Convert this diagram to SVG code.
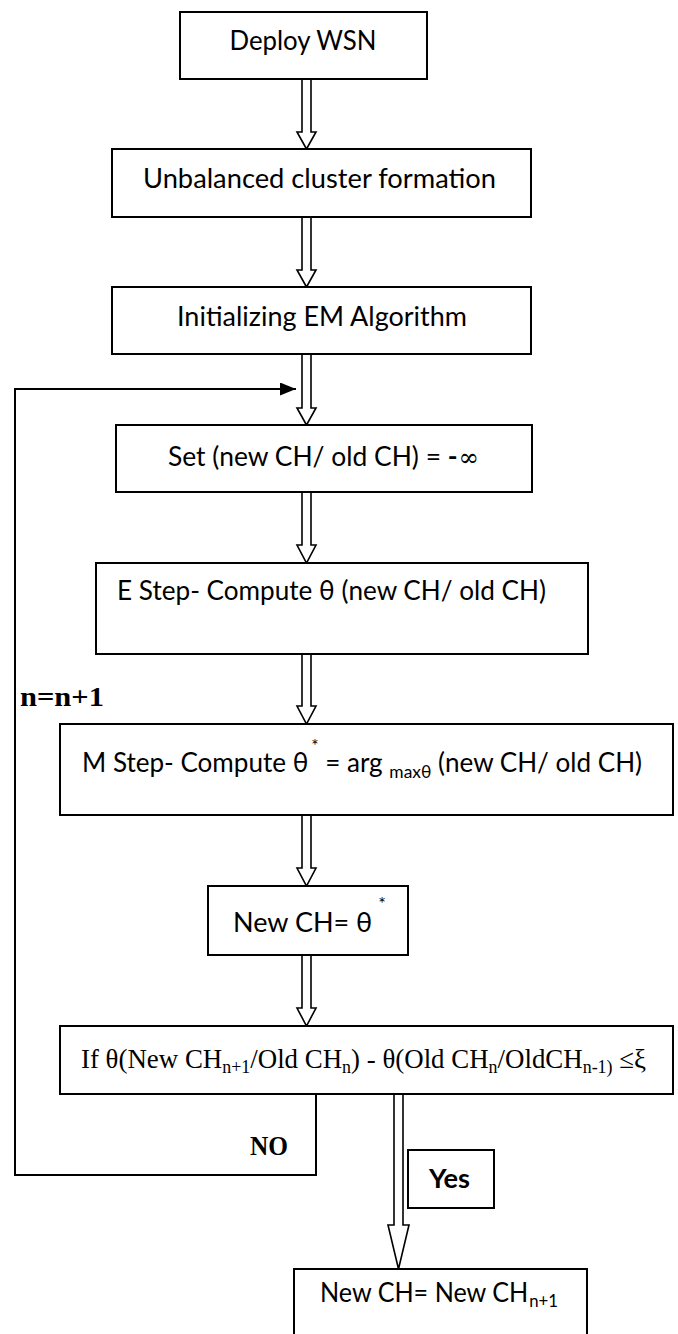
<svg xmlns="http://www.w3.org/2000/svg" width="678" height="1334" viewBox="0 0 678 1334">
<style>
.box{fill:#fff;stroke:#000;stroke-width:2}
.t{font-family:Lato,"Liberation Sans",sans-serif;font-size:27px;fill:#000}
.s{font-family:"Liberation Serif","Times New Roman",serif;font-size:27px;fill:#000}
.bs{font-family:"Liberation Serif","Times New Roman",serif;font-size:27px;font-weight:bold;fill:#000}
.blk{fill:#fff;stroke:#000;stroke-width:1.6;stroke-linejoin:miter}
.fb{fill:none;stroke:#000;stroke-width:2}
.sub{font-size:18px}
.ssub{font-size:18px}
</style>
<defs>
<marker id="ah" markerWidth="16" markerHeight="13" refX="16" refY="6.5" orient="auto" markerUnits="userSpaceOnUse"><path d="M0,0 L16,6.5 L0,13 z" fill="#000"/></marker>
</defs>

<g id="connectors">
<path class="blk" d="M302,79 V132 H297 L306.5,149 L316,132 H311 V79 Z"/>
<path class="blk" d="M302,217 V270 H297 L306.5,287 L316,270 H311 V217 Z"/>
<path class="blk" d="M302,354 V408 H297 L306.5,425 L316,408 H311 V354 Z"/>
<path class="blk" d="M302,492 V545 H297 L306.5,563 L316,545 H311 V492 Z"/>
<path class="blk" d="M302,654 V706 H297 L306.5,724 L316,706 H311 V654 Z"/>
<path class="blk" d="M302,815 V868 H297 L306.5,886 L316,868 H311 V815 Z"/>
<path class="blk" d="M302,955 V1008 H297 L306.5,1026 L316,1008 H311 V955 Z"/>
<path class="blk" d="M394,1094 V1225 H388 L398.5,1269 L409,1225 H403 V1094 Z"/>
<path class="fb" d="M316,1094 V1175 H15 V389 H296" marker-end="url(#ah)"/>
<text class="bs" x="20" y="706" textLength="84" lengthAdjust="spacingAndGlyphs">n=n+1</text>
<text class="bs" x="250" y="1155" textLength="38" lengthAdjust="spacingAndGlyphs">NO</text>
</g>

<g id="deploy">
<rect class="box" x="180" y="12" width="247" height="67"/>
<text class="t" x="303" y="50" text-anchor="middle" textLength="147" lengthAdjust="spacingAndGlyphs">Deploy WSN</text>
</g>

<g id="unbalanced">
<rect class="box" x="112" y="149" width="419" height="68"/>
<text class="t" x="319.5" y="188" text-anchor="middle" textLength="353" lengthAdjust="spacingAndGlyphs">Unbalanced cluster formation</text>
</g>

<g id="init">
<rect class="box" x="112" y="287" width="419" height="67"/>
<text class="t" x="322" y="326" text-anchor="middle" textLength="290" lengthAdjust="spacingAndGlyphs">Initializing EM Algorithm</text>
</g>

<g id="set">
<rect class="box" x="116" y="425" width="416" height="67"/>
<text class="t" x="168" y="466" textLength="311" lengthAdjust="spacingAndGlyphs">Set (new CH/ old CH) = <tspan font-weight="bold">-</tspan><tspan font-family="'DejaVu Serif',serif" font-size="25" dx="1">∞</tspan></text>
</g>

<g id="estep">
<rect class="box" x="96" y="563" width="492" height="91"/>
<text class="t" x="117" y="600" textLength="429" lengthAdjust="spacingAndGlyphs">E Step- Compute θ (new CH/ old CH)</text>
</g>

<g id="mstep">
<rect class="box" x="60" y="724" width="613" height="91"/>
<text class="t" x="82" y="772" textLength="560" lengthAdjust="spacingAndGlyphs">M Step- Compute θ<tspan class="sub" dx="3" dy="-20">*</tspan><tspan dy="20"> = arg </tspan><tspan class="sub" dy="6">maxθ</tspan><tspan dy="-6"> (new CH/ old CH)</tspan></text>
</g>

<g id="newch">
<rect class="box" x="208" y="886" width="200" height="69"/>
<text class="t" x="233" y="932">New CH= θ<tspan class="sub" dx="6" dy="-22">*</tspan></text>
</g>

<g id="condition">
<rect class="box" x="60" y="1026" width="613" height="68"/>
<text class="s" x="81" y="1068" textLength="565" lengthAdjust="spacingAndGlyphs">If θ(New CH<tspan class="ssub" dy="5">n+1</tspan><tspan dy="-5">/Old CH</tspan><tspan class="ssub" dy="5">n</tspan><tspan dy="-5">) - θ(Old CH</tspan><tspan class="ssub" dy="5">n</tspan><tspan dy="-5">/OldCH</tspan><tspan class="ssub" dy="5">n-1)</tspan><tspan dy="-5"> ≤ξ</tspan></text>
</g>

<g id="yes">
<rect class="box" x="408" y="1150" width="86" height="58"/>
<text class="t" x="429" y="1188" font-weight="bold" font-size="26" textLength="41" lengthAdjust="spacingAndGlyphs">Yes</text>
</g>

<g id="final">
<path class="box" d="M294,1334 V1269 H587 V1334"/>
<text class="t" x="320" y="1302" textLength="238" lengthAdjust="spacingAndGlyphs">New CH= New CH<tspan class="sub" dx="1" dy="5">n+1</tspan></text>
</g>
</svg>
